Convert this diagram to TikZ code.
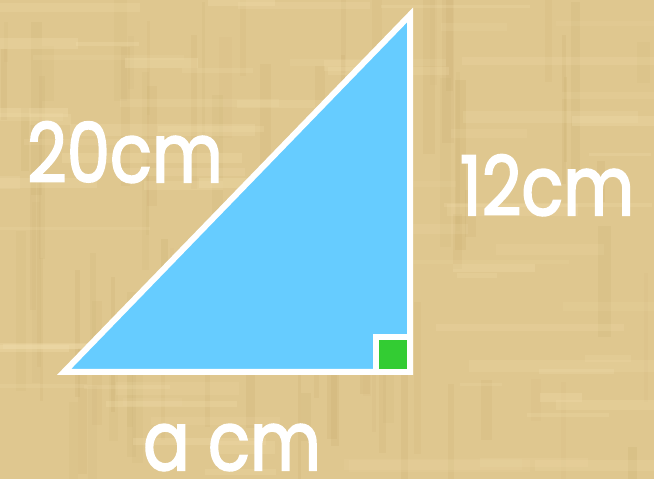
\documentclass[tikz,border=0pt]{standalone}
\usepackage{fontspec}
\newfontfamily\lbl[FakeBold=2.5]{Poppins}
\definecolor{paper}{RGB}{223,199,143}
\definecolor{papdark}{RGB}{200,172,110}
\definecolor{paplight}{RGB}{242,222,172}
\definecolor{triblue}{RGB}{102,204,255}
\definecolor{rgreen}{RGB}{51,204,51}
\begin{document}
\begin{tikzpicture}[x=1pt,y=1pt,
  edge/.style={draw=white,line width=6pt,line join=miter},
  lab/.style={text=white,font=\lbl\fontsize{82}{82}\selectfont,anchor=base,inner sep=0pt,xscale=0.84,text depth=0pt}]
\useasboundingbox (0,0) rectangle (654,479);
\fill[paper] (0,0) rectangle (654,479);
\pgfmathsetseed{11}
\foreach \i in {1,...,90}{
  \pgfmathsetmacro\xx{rnd*654}
  \pgfmathsetmacro\yy{rnd*479-60}
  \pgfmathsetmacro\ww{3+rnd*10}
  \pgfmathsetmacro\hh{40+rnd*160}
  \pgfmathsetmacro\oo{0.08+rnd*0.14}
  \fill[papdark,opacity=\oo] (\xx,\yy) rectangle ++(\ww,\hh);
}
\foreach \i in {1,...,80}{
  \pgfmathsetmacro\xx{rnd*654-60}
  \pgfmathsetmacro\yy{rnd*479}
  \pgfmathsetmacro\ww{40+rnd*180}
  \pgfmathsetmacro\hh{3+rnd*10}
  \pgfmathsetmacro\oo{0.12+rnd*0.2}
  \fill[paplight,opacity=\oo] (\xx,\yy) rectangle ++(\ww,\hh);
}
\coordinate (A) at (64,107);
\coordinate (B) at (410,107);
\coordinate (C) at (410,464);
\filldraw[edge,fill=triblue] (A) -- (B) -- (C) -- cycle;
\coordinate (S1) at (376,107);
\coordinate (S2) at (376,142);
\coordinate (S3) at (410,142);
\filldraw[edge,fill=rgreen] (S1) -- (S2) -- (S3) -- (B) -- cycle;
\node[lab] (hyp) at (125,297) {20cm};
\node[lab] (leg) at (547,264) {12cm};
\node[lab] (base) at (232,9) {a cm};
\end{tikzpicture}
\end{document}
